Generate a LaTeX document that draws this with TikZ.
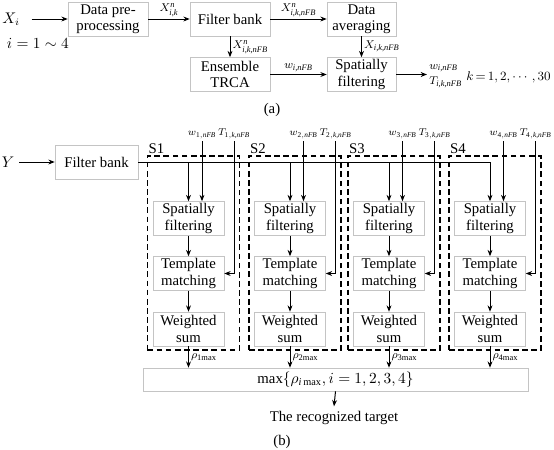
\documentclass[tikz,border=0pt]{standalone}
\usepackage{amsmath,amssymb}
\usepackage{fontspec}
\setmainfont{Liberation Serif}
\usepackage{tikz}
\usetikzlibrary{arrows.meta, positioning, calc}
\definecolor{boxgray}{RGB}{196,196,196}
\newcommand{\si}[1]{\textit{#1}}
\tikzset{
  blk/.style={
    rectangle, draw=boxgray, fill=white, align=center, inner sep=1pt,
    minimum height=0.85cm, font=\fontsize{10.5}{11.5}\selectfont
  },
  arr/.style={-{Stealth[length=4.5pt,width=3.5pt]}, line width=0.7pt},
  grp/.style={draw, line width=0.9pt, dash pattern=on 4pt off 2.5pt},
  lbl/.style={font=\footnotesize, inner sep=1.5pt},
  wtlbl/.style={font=\fontsize{7.4}{9}\selectfont, inner sep=1.5pt, anchor=south}
}

\begin{document}
\begin{tikzpicture}[x=0.025cm, y=-0.025cm, font=\fontsize{10.5}{11.5}\selectfont]
  \useasboundingbox (0,0) rectangle (554,449);

  % (a) training
  \node (xi) at (11,19) {$X_i$};
  \node[anchor=west] (irange) at (2,43) {$i=1\sim4$};
  \node[blk, minimum width=2cm] (prep) at (108,19) {Data pre-\\processing};
  \node[blk, minimum width=2cm] (fba) at (230,19) {Filter bank};
  \node[blk, minimum width=1.725cm] (avg) at (361.5,19) {Data\\averaging};
  \node[blk, minimum width=2cm] (trca) at (230,74.5) {Ensemble\\TRCA};
  \node[blk, minimum width=1.725cm] (spf) at (361.5,74.5) {Spatially\\filtering};
  \coordinate (aout) at (427,74.5);
  \node[lbl, anchor=south west] (wout) at (aout) {$w_{\si{i,nFB}}$};
  \node[lbl, anchor=north west] (tout) at (aout) {$T_{\si{i,k,nFB}}$};
  \node[anchor=west, inner sep=0pt, font=\fontsize{9.5}{12}\selectfont] (kset) at (466,77)
    {$\thickmuskip=3mu k=1,2,\cdots,30$};
  \node (capa) at (272,110) {(a)};

  \draw[arr] ([xshift=5pt]xi.east) -- (prep);
  \draw[arr] (prep) -- (fba) node[lbl, midway, above] {$X^{\si{n}}_{\si{i,k}}$};
  \draw[arr] (fba) -- (avg) node[lbl, midway, above] {$X^{\si{n}}_{\si{i,k,nFB}}$};
  \draw[arr] (fba) -- (trca) node[lbl, midway, right] {$X^{\si{n}}_{\si{i,k,nFB}}$};
  \draw[arr] (avg) -- (spf) node[lbl, midway, right] {$X_{\si{i,k,nFB}}$};
  \draw[arr] (trca) -- (spf) node[lbl, midway, above] {$w_{\si{i,nFB}}$};
  \draw[arr] (spf) -- (aout);

  % (b) recognition
  \node (y) at (8,162) {$Y$};
  \node[blk, minimum width=2.075cm] (fbb) at (96.5,162) {Filter bank};
  \node[blk, minimum width=9.625cm, minimum height=0.575cm] (maxb) at (335.5,379.5)
    {$\text{max}\{\rho_{\si{i}\,\text{max}},i=1,2,3,4\}$};
  \node (tgt) at (334,418) {The recognized target};
  \node (capb) at (282,442) {(b)};

  \draw[arr] (y) -- (fbb);
  \draw[arr] (maxb.south) -- (tgt.north);

  % sub-bands S1..S4
  \foreach \k/\c in {1/188.5, 2/290, 3/389, 4/490} {
    \node[grp, minimum width=2.3cm, minimum height=4.85cm] (s\k) at (\c+5,253) {};
    \node[anchor=south west, inner sep=1pt] (sl\k) at (s\k.north west) {S\k};
    \node[blk, minimum width=1.775cm] (sf\k) at (\c,218.5) {Spatially\\filtering};
    \node[blk, minimum width=1.775cm] (tm\k) at (\c,273.5) {Template\\matching};
    \node[blk, minimum width=1.775cm] (ws\k) at (\c,329) {Weighted\\sum};
    \node[wtlbl] (w\k) at (\c+13.5,141) {$w_{\text{\k},\si{nFB}}$};
    \node[wtlbl] (t\k) at (\c+45.5,141) {$T_{\text{\k},\si{k,nFB}}$};
    \draw[arr] (w\k.south) -- (w\k.south |- sf\k.north);
    \draw[arr] (t\k.south) |- (tm\k.east);
    \draw[arr] (sf\k) -- (tm\k);
    \draw[arr] (tm\k) -- (ws\k);
    \draw[arr] (ws\k.south) -- (ws\k.south |- maxb.north)
      node[lbl, midway, right] {$\rho_{\text{\k max}}$};
  }

  % filter bank output to all sub-bands
  \draw[arr] (fbb.east) -| (sf4.north);
  \foreach \k in {1,2,3} {
    \draw[arr] (sf\k.north |- fbb.east) -- (sf\k.north);
  }
\end{tikzpicture}
\end{document}
